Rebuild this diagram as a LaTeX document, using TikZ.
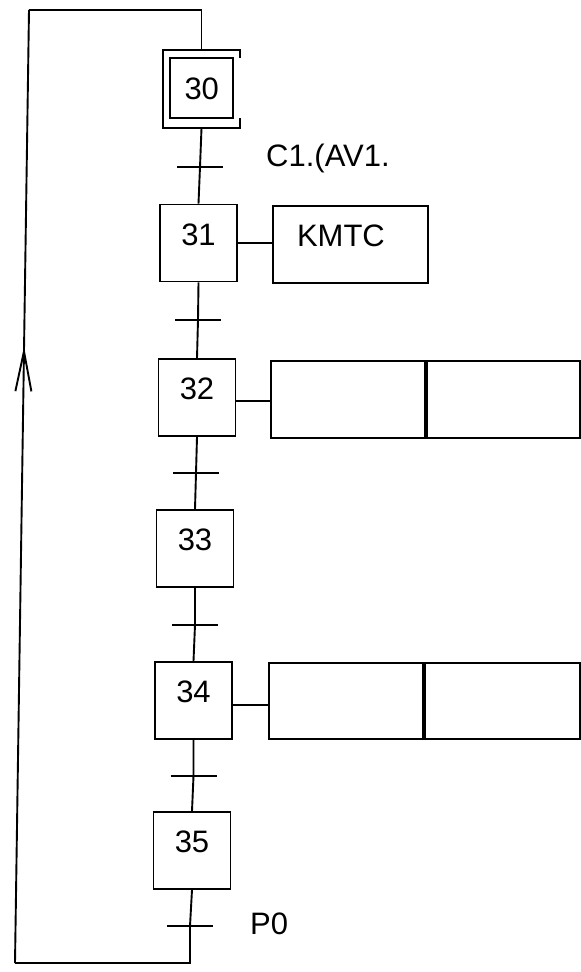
\documentclass[tikz,border=0pt]{standalone}
\usepackage{fontspec}
\setmainfont{Liberation Sans}
\usetikzlibrary{arrows.meta,decorations.markings}
\begin{document}
\begin{tikzpicture}[x=1pt,y=-1pt,
  every node/.style={font=\fontsize{31}{37}\selectfont, inner sep=0pt},
  ln/.style={line width=1.9pt},
  stepbox/.style={draw, line width=1.9pt, minimum width=77pt, minimum height=77pt, text height=22pt, text depth=18pt},
  actbox/.style={draw, line width=1.9pt, minimum height=77pt},
  bar/.style={line width=1.9pt},
  lbl/.style={anchor=west, text height=22pt, text depth=0pt}
]
\useasboundingbox (0,0) rectangle (581,972);

% initial step 30
\node[draw, line width=1.9pt, minimum width=63pt, minimum height=60pt, text height=22pt, text depth=0pt, text width=34pt, align=left, inner xsep=8pt] (s30) at (201.5,88) {30};
\node[minimum width=77pt, minimum height=78pt] (s30o) at (201.5,89) {};
\draw[ln] ([yshift=-8pt]s30o.north east) -- (s30o.north east) -- (s30o.north west) -- (s30o.south west) -- (s30o.south east) -- ([yshift=10pt]s30o.south east);

% steps
\node[stepbox] (s31) at (198.5,243) {31};
\node[stepbox] (s32) at (197,397.5) {32};
\node[stepbox] (s33) at (195,548.5) {33};
\node[stepbox] (s34) at (193.5,700.5) {34};
\node[stepbox] (s35) at (192,850.5) {35};

% transitions
\coordinate (t1) at (200,167);
\coordinate (t2) at (198,320);
\coordinate (t3) at (196,473);
\coordinate (t4) at (195,625);
\coordinate (t5) at (193.5,776);
\coordinate (t6) at (190,926);

\draw[ln] (s30o.south) -- (t1) -- (s31.north);
\draw[ln] (s31.south) -- (t2) -- (s32.north);
\draw[ln] (s32.south) -- (t3) -- (s33.north);
\draw[ln] (s33.south) -- (t4) -- (s34.north);
\draw[ln] (s34.south) -- (t5) -- (s35.north);

\foreach \t in {t1,t2,t3,t4,t5,t6}
  \draw[bar] ([xshift=-23pt]\t) -- ([xshift=23pt]\t);

% transition labels
\node[lbl] (lc1) at (266,155) {C1.(AV1.};
\node[lbl] (lp0) at (250,923.5) {P0};

% actions
\node[actbox, minimum width=155pt, text width=107pt, align=left, inner xsep=24pt, text height=22pt, text depth=18pt] (a31) at (350.5,244.5) {KMTC};
\draw[ln] (s31.east) -- (s31.east -| a31.west);

\node[actbox, minimum width=154pt] (a32l) at (348,399.5) {};
\node[actbox, minimum width=153pt, anchor=west] (a32r) at (a32l.east) {};
\draw[ln] ([yshift=-3.5pt]s32.east) -- ([yshift=-3.5pt]s32.east -| a32l.west);

\node[actbox, minimum width=154pt, minimum height=76pt] (a34l) at (346,701) {};
\node[actbox, minimum width=155pt, minimum height=76pt, anchor=west] (a34r) at (a34l.east) {};
\draw[ln] ([yshift=-4.5pt]s34.east) -- ([yshift=-4.5pt]s34.east -| a34l.west);

% return loop
\coordinate (c1) at (190,963);
\coordinate (c2) at (15,963);
\coordinate (c3) at (29,10);
\coordinate (c4) at (201.5,10);
\draw[ln] (s35.south) -- (t6) -- (c1) -- (c2);
\draw[ln, postaction={decorate}, decoration={markings, mark=at position 0.647 with {\arrow[line width=1.9pt]{Straight Barb[length=40pt,width=16pt]}}}] (c2) -- (c3);
\draw[ln] (c3) -- (c4) -- (s30o.north);
\end{tikzpicture}
\end{document}
